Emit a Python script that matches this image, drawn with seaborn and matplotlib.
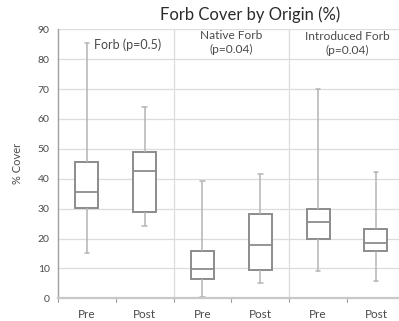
import numpy as np
import pandas as pd
import matplotlib
matplotlib.use("Agg")
import matplotlib.pyplot as plt
import seaborn as sns

categories = ["Pre", "Post", "Pre", "Post", "Pre", "Post"]
groups = ["Forb (p=0.5)", "Native Forb\n(p=0.04)", "Introduced Forb\n(p=0.04)"]
# five-number summaries: min, q1, median, q3, max
forb_pre = [15.3, 30.3, 35.4, 45.7, 85.4]
forb_post = [24.3, 28.8, 42.7, 48.9, 64.1]
native_pre = [0.5, 6.5, 9.8, 15.9, 39.3]
native_post = [5.0, 9.5, 17.8, 28.1, 41.5]
intro_pre = [9.1, 19.8, 25.4, 29.8, 69.9]
intro_post = [5.8, 15.9, 18.6, 23.1, 42.1]
yticks = list(range(0, 100, 10))

series = [forb_pre, forb_post, native_pre, native_post, intro_pre, intro_post]
rows = []
for i, vals in enumerate(series):
    for v in vals:
        rows.append({"pos": i, "value": v})
df = pd.DataFrame(rows)

sns.set_style("white")
plt.rcParams["font.family"] = ["Lato", "DejaVu Sans"]

fig = plt.figure(figsize=(3.99, 3.21), dpi=100)
W, H = 399, 321
ax = fig.add_axes([58 / W, 1 - 298.3 / H, (399 - 58) / W, (298.3 - 29.3) / H])

edge = "#8c8c8c"
wcol = "#b4b4b4"
sns.boxplot(data=df, x="pos", y="value", ax=ax, whis=(0, 100), width=0.4,
            color="white", linewidth=1.3, fliersize=0,
            boxprops=dict(facecolor="white", edgecolor=edge, linewidth=1.4),
            medianprops=dict(color=edge, linewidth=1.3),
            whiskerprops=dict(color=wcol, linewidth=1.1),
            capprops=dict(color=wcol, linewidth=1.1))

# shrink whisker caps
for ln in ax.lines:
    xd = np.asarray(ln.get_xdata(), dtype=float)
    yd = np.asarray(ln.get_ydata(), dtype=float)
    if len(xd) == 2 and yd[0] == yd[1] and 0 < abs(xd[1] - xd[0]) < 0.3:
        c = xd.mean()
        ln.set_xdata([c - 0.04, c + 0.04])

ax.set_xlim(-0.5, 5.4)
ax.set_ylim(0, 90)
tc = "#4a4a4a"
ax.set_yticks(yticks)
ax.set_yticklabels([str(t) for t in yticks], fontsize=7.5, color=tc)
ax.set_xticks(range(6))
ax.set_xticklabels(categories, fontsize=8.5, color=tc)
ax.tick_params(axis="x", length=0, pad=8)
ax.tick_params(axis="y", length=3, color="#a0a0a0", width=0.8, pad=3)
for y in yticks[1:]:
    ax.axhline(y, color="#dcdcdc", linewidth=0.9, zorder=0)
for x in [1.5, 3.5]:
    ax.axvline(x, color="#dcdcdc", linewidth=0.9, zorder=0)
# bottom ticks between categories
for x in [-0.5, 0.5, 1.5, 2.5, 3.5, 4.5]:
    ax.plot([x, x], [0, -1.2], color="#a0a0a0", linewidth=0.8, clip_on=False)

for s in ["top", "right"]:
    ax.spines[s].set_visible(False)
ax.spines["left"].set_color("#a0a0a0")
ax.spines["bottom"].set_color("#c8c8c8")
ax.spines["bottom"].set_linewidth(1.6)
ax.spines["left"].set_linewidth(1.0)

ax.set_xlabel("")
ax.set_ylabel("% Cover", fontsize=8, color=tc, labelpad=11)

# group annotations
ax.text(0.7, 85.0, groups[0], fontsize=9, color=tc, ha="center", va="center")
ax.text(2.5, 85.6, groups[1], fontsize=8.6, color=tc, ha="center", va="center",
        linespacing=1.3)
ax.text(4.5, 85.3, groups[2], fontsize=8.6, color=tc, ha="center", va="center",
        linespacing=1.35)

fig.text(250 / W, 1 - 15 / H, "Forb Cover by Origin (%)", fontsize=12, color="#2a2a2a",
         ha="center", va="center")

fig.savefig("out.png", dpi=100, facecolor="white")
